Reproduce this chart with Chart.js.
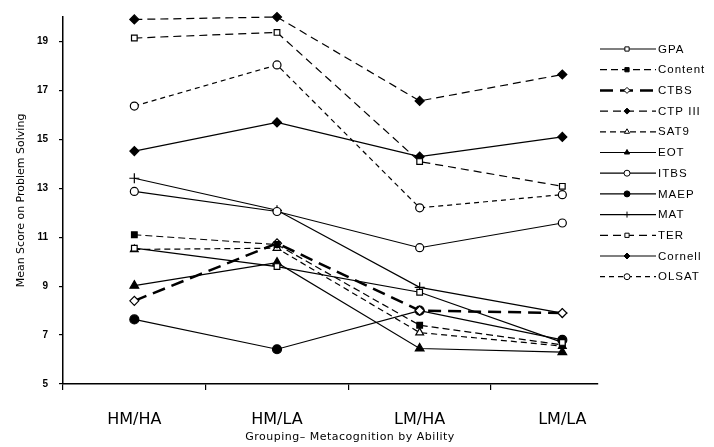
<!DOCTYPE html>
<html>
<head>
<meta charset="utf-8">
<script src="https://cdn.jsdelivr.net/npm/chart.js@4"></script>
<style>
  html, body { margin: 0; padding: 0; background: #fff; }
  #wrap { width: 714px; height: 447px; position: relative; }
</style>
</head>
<body>
<div id="wrap"><canvas id="c"></canvas></div>
<script>
const categories = ['HM/HA', 'HM/LA', 'LM/HA', 'LM/LA'];
const yTicks = [5, 7, 9, 11, 13, 15, 17, 19];
const xTitle = 'Grouping\u2013 Metacognition by Ability';
const yTitle = 'Mean Score on Problem Solving';

const GPA     = [10.55, 9.8, 8.75, 6.7];
const Content = [11.1, 10.7, 7.4, 6.6];
const CTBS    = [8.4, 10.75, 8.0, 7.9];
const CTPIII  = [19.9, 20.0, 16.57, 17.65];
const SAT9    = [10.5, 10.55, 7.1, 6.55];
const EOT     = [9.02, 9.96, 6.45, 6.3];
const ITBS    = [12.87, 12.05, 10.57, 11.58];
const MAEP    = [7.64, 6.42, 8.0, 6.8];
const MAT     = [13.41, 12.1, 8.95, 7.9];
const TER     = [19.14, 19.37, 14.09, 13.08];
const Cornell = [14.52, 15.69, 14.29, 15.1];
const OLSAT   = [16.36, 18.04, 12.2, 12.74];

const toXY = arr => arr.map((v, i) => ({ x: i, y: v }));

function series(label, values, style) {
  return Object.assign({
    label: label,
    data: toXY(values),
    borderColor: '#000',
    borderWidth: 1.2,
    borderDash: [],
    pointRadius: 4,
    pointBorderWidth: 1.2,
    pointBorderColor: '#000',
    pointBackgroundColor: '#000',
    tension: 0,
    clip: false
  }, style);
}

const datasets = [
  series('GPA', GPA, { pointStyle: 'rect', pointBackgroundColor: '#fff', pointRadius: 4 }),
  series('Content', Content, { pointStyle: 'rect', borderDash: [7, 4], pointRadius: 4 }),
  series('CTBS', CTBS, { pointStyle: 'rectRot', borderWidth: 2.5, borderDash: [13, 7], pointBackgroundColor: '#fff', pointRadius: 4.5 }),
  series('CTP III', CTPIII, { pointStyle: 'rectRot', borderDash: [8, 5], pointRadius: 4.5 }),
  series('SAT9', SAT9, { pointStyle: 'triangle', borderDash: [6, 4], pointBackgroundColor: '#fff', pointRadius: 4.5 }),
  series('EOT', EOT, { pointStyle: 'triangle', pointRadius: 5 }),
  series('ITBS', ITBS, { pointStyle: 'circle', pointBackgroundColor: '#fff', pointRadius: 4 }),
  series('MAEP', MAEP, { pointStyle: 'circle', pointRadius: 4.5 }),
  series('MAT', MAT, { pointStyle: 'cross', pointRadius: 5 }),
  series('TER', TER, { pointStyle: 'rect', borderDash: [8, 5], pointBackgroundColor: '#fff', pointRadius: 4 }),
  series('Cornell', Cornell, { pointStyle: 'rectRot', pointRadius: 4.5 }),
  series('OLSAT', OLSAT, { pointStyle: 'circle', borderDash: [5, 4], pointBackgroundColor: '#fff', pointRadius: 4 })
];

const legendPlugin = {
  id: 'sideLegend',
  afterDraw(chart) {
    const ctx = chart.ctx;
    const x0 = 600, x1 = 656, xm = 627, xt = 658;
    const y0 = 49, dy = 20.7;
    chart.data.datasets.forEach((ds, i) => {
      const y = y0 + i * dy;
      ctx.save();
      ctx.strokeStyle = '#000';
      ctx.lineWidth = ds.borderWidth;
      ctx.setLineDash(ds.borderDash || []);
      ctx.beginPath();
      ctx.moveTo(x0, y);
      ctx.lineTo(x1, y);
      ctx.stroke();
      ctx.setLineDash([]);
      ctx.fillStyle = ds.pointBackgroundColor;
      ctx.strokeStyle = '#000';
      ctx.lineWidth = 1;
      Chart.helpers.drawPoint(ctx, {
        pointStyle: ds.pointStyle,
        radius: 3,
        rotation: 0,
        borderWidth: 1
      }, xm, y);
      ctx.fillStyle = '#000';
      ctx.font = '11.5px "Liberation Sans", Arial, sans-serif';
      try { ctx.letterSpacing = '1px'; } catch (e) {}
      ctx.textAlign = 'left';
      ctx.textBaseline = 'middle';
      ctx.fillText(ds.label, xt, y + 0.5);
      ctx.restore();
    });
    // x-axis title
    ctx.save();
    ctx.fillStyle = '#000';
    ctx.font = '11px "DejaVu Sans", sans-serif';
    try { ctx.letterSpacing = '0.5px'; } catch (e) {}
    ctx.textAlign = 'center';
    ctx.textBaseline = 'middle';
    ctx.fillText(xTitle, 350, 437);
    ctx.restore();
  }
};

new Chart(document.getElementById('c'), {
  type: 'line',
  data: { datasets: datasets },
  plugins: [legendPlugin],
  options: {
    responsive: true,
    maintainAspectRatio: false,
    animation: false,
    devicePixelRatio: 1,
    layout: { padding: { top: 13, right: 116, left: 0, bottom: 0 } },
    plugins: { legend: { display: false }, tooltip: { enabled: false } },
    scales: {
      x: {
        type: 'linear',
        min: -0.5,
        max: 3.25,
        afterBuildTicks(scale) {
          scale.ticks = categories.map((c, i) => ({ value: i }));
        },
        afterFit(scale) { scale.height = 63; },
        ticks: {
          callback: (v) => categories[v],
          color: '#000',
          font: { family: '"DejaVu Sans", sans-serif', size: 16 },
          padding: 20,
          maxRotation: 0,
          autoSkip: false
        },
        grid: { offset: true, drawOnChartArea: false, tickLength: 6, color: '#000', lineWidth: 1.2 },
        border: { display: true, color: '#000', width: 1.5 },
        title: { display: false }
      },
      y: {
        type: 'linear',
        min: 5,
        max: 20,
        afterBuildTicks(scale) {
          scale.ticks = yTicks.map(v => ({ value: v }));
        },
        afterFit(scale) { scale.width = 63; },
        ticks: {
          color: '#000',
          font: { family: '"Liberation Sans", sans-serif', size: 10, weight: 'bold' },
          padding: 11
        },
        grid: { drawOnChartArea: false, tickLength: 4, color: '#000', lineWidth: 1.2 },
        border: { display: true, color: '#000', width: 1.5 },
        title: {
          display: true,
          text: yTitle,
          color: '#000',
          font: { family: '"DejaVu Sans", sans-serif', size: 11 },
          padding: { top: 15, bottom: 0 }
        }
      }
    }
  }
});
</script>
</body>
</html>
